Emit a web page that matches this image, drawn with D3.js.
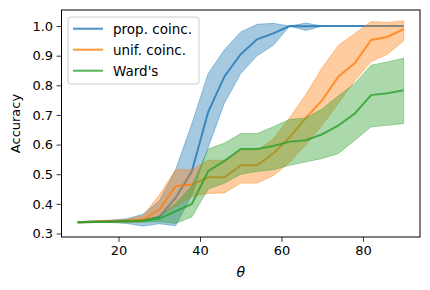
<!DOCTYPE html>
<html><head><meta charset="utf-8">
<script src="https://cdn.jsdelivr.net/npm/d3@7"></script>
<style>html,body{margin:0;padding:0;background:#fff;}svg{display:block;font-family:"DejaVu Sans",sans-serif;}</style>
</head><body>
<svg id="c" width="430" height="290"></svg>
<script>
const theta = [10,14,18,22,26,30,34,38,42,46,50,54,58,62,66,70,74,78,82,86,90];
const propMean = [0.338,0.340,0.341,0.343,0.345,0.356,0.420,0.510,0.710,0.830,0.905,0.955,0.975,1.000,0.999,1.000,1.000,1.000,1.000,1.000,1.000];
const propLo   = [0.336,0.337,0.337,0.334,0.325,0.333,0.326,0.430,0.590,0.740,0.840,0.900,0.935,1.000,0.985,1.000,1.000,1.000,1.000,1.000,1.000];
const propHi   = [0.340,0.343,0.345,0.350,0.365,0.410,0.515,0.670,0.840,0.920,0.980,1.006,1.009,1.000,1.010,1.000,1.000,1.000,1.000,1.000,1.000];
const unifMean = [0.338,0.340,0.341,0.342,0.348,0.380,0.460,0.465,0.490,0.490,0.530,0.530,0.570,0.625,0.690,0.750,0.830,0.875,0.953,0.963,0.990];
const unifLo   = [0.336,0.337,0.338,0.338,0.340,0.360,0.390,0.425,0.435,0.437,0.470,0.470,0.495,0.540,0.600,0.666,0.740,0.815,0.880,0.905,0.950];
const unifHi   = [0.340,0.342,0.344,0.347,0.360,0.430,0.515,0.515,0.547,0.547,0.580,0.580,0.620,0.690,0.770,0.860,0.935,0.975,1.015,1.012,1.018];
const wardMean = [0.338,0.339,0.340,0.341,0.342,0.350,0.375,0.400,0.510,0.545,0.585,0.585,0.595,0.610,0.615,0.635,0.665,0.705,0.767,0.773,0.783];
const wardLo   = [0.336,0.337,0.338,0.338,0.338,0.340,0.334,0.356,0.450,0.470,0.500,0.510,0.515,0.530,0.542,0.553,0.570,0.615,0.660,0.665,0.671];
const wardHi   = [0.340,0.341,0.342,0.344,0.346,0.358,0.400,0.460,0.585,0.605,0.637,0.637,0.660,0.685,0.690,0.720,0.765,0.806,0.868,0.879,0.891];
const seriesNames = ["prop. coinc.","unif. coinc.","Ward's"];
const seriesColors = ["#1f77b4","#ff7f0e","#2ca02c"];
const xTicks = [20,40,60,80];
const yTicks = [0.3,0.4,0.5,0.6,0.7,0.8,0.9,1.0];

const series = [
  {name:seriesNames[0], color:seriesColors[0], mean:propMean, lo:propLo, hi:propHi},
  {name:seriesNames[1], color:seriesColors[1], mean:unifMean, lo:unifLo, hi:unifHi},
  {name:seriesNames[2], color:seriesColors[2], mean:wardMean, lo:wardLo, hi:wardHi}
];

const L=61.5, R=420, T=10, B=237;
const x = d3.scaleLinear().domain([6,94]).range([L,R]);
const y = d3.scaleLinear().domain([0.2882,1.0541]).range([B,T]);
const svg = d3.select("#c");

const plot = svg.append("g");
series.forEach(s=>{
  const pts = theta.map((t,i)=>({t, m:s.mean[i], lo:s.lo[i], hi:s.hi[i]}));
  const area = d3.area().x(d=>x(d.t)).y0(d=>y(d.lo)).y1(d=>y(d.hi));
  plot.append("path").attr("d",area(pts)).attr("fill",s.color).attr("fill-opacity",0.4)
    .attr("stroke",s.color).attr("stroke-opacity",0.4).attr("stroke-width",1);
  const line = d3.line().x(d=>x(d.t)).y(d=>y(d.m));
  plot.append("path").attr("d",line(pts)).attr("fill","none").attr("stroke",s.color)
    .attr("stroke-opacity",0.8).attr("stroke-width",2);
});

// axes
const xAxis = svg.append("g").attr("transform",`translate(0,${B})`)
  .call(d3.axisBottom(x).tickValues(xTicks).tickSize(4.9).tickPadding(3.5).tickFormat(d3.format("d")));
const yAxis = svg.append("g").attr("transform",`translate(${L},0)`)
  .call(d3.axisLeft(y).tickValues(yTicks).tickSize(4.9).tickPadding(3.5).tickFormat(d3.format(".1f")));
[xAxis,yAxis].forEach(a=>{
  a.select(".domain").remove();
  a.selectAll(".tick line").attr("stroke","#000").attr("stroke-width",0.8);
  a.selectAll(".tick text").attr("fill","#000").style("font-size","13px").style("font-family","DejaVu Sans");
});
svg.append("rect").attr("x",L).attr("y",T).attr("width",R-L).attr("height",B-T)
  .attr("fill","none").attr("stroke","#000").attr("stroke-width",1);

svg.append("text").attr("x",(L+R)/2).attr("y",277).attr("text-anchor","middle")
  .style("font-size","14px").style("font-style","italic").text("θ");
svg.append("text").attr("transform",`translate(19.5,${(T+B)/2}) rotate(-90)`).attr("text-anchor","middle")
  .style("font-size","13px").text("Accuracy");

// legend
const lg = svg.append("g");
lg.append("rect").attr("x",68).attr("y",17).attr("width",131).attr("height",67).attr("rx",3)
  .attr("fill","#fff").attr("fill-opacity",0.8).attr("stroke","#cccccc").attr("stroke-width",1);
series.forEach((s,i)=>{
  const yy = 28.7 + i*21;
  lg.append("line").attr("x1",73).attr("x2",103).attr("y1",yy).attr("y2",yy)
    .attr("stroke",s.color).attr("stroke-opacity",0.8).attr("stroke-width",2);
  lg.append("text").attr("x",113).attr("y",yy+5).style("font-size","13.5px").text(s.name);
});
</script>
</body></html>
